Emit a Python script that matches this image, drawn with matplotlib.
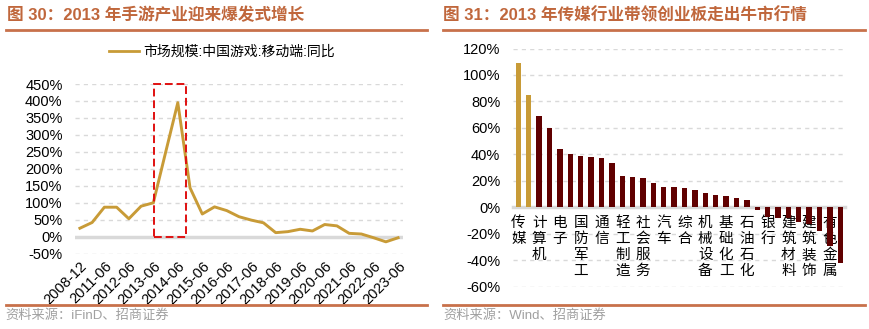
import numpy as np
import matplotlib.pyplot as plt
from matplotlib.lines import Line2D
from matplotlib.patches import Rectangle

plt.rcParams['font.family'] = ['Liberation Sans', 'Noto Sans CJK SC']

# left: mobile game market size yoy (%)
periods = ['2008-12', '2010-12', '2011-06', '2011-12', '2012-06', '2012-12', '2013-06',
           '2013-12', '2014-06', '2014-12', '2015-06', '2015-12', '2016-06', '2016-12',
           '2017-06', '2017-12', '2018-06', '2018-12', '2019-06', '2019-12', '2020-06',
           '2020-12', '2021-06', '2021-12', '2022-06', '2022-12', '2023-06']
growth = [25, 42, 87, 87, 53, 90, 100, 248, 395, 144, 67, 88, 77, 59, 49, 41,
          12, 15, 22, 17, 36, 32, 10, 8, -3, -15, -3]
line_ticks = list(range(-50, 451, 50))

# right: 2013 industry returns (%)
industries = ['传媒', '创业板指', '计算机', '环保', '电子', '医药生物', '国防军工', '家用电器',
              '通信', '电力设备', '轻工制造', '纺织服饰', '社会服务', '美容护理', '汽车', '农林牧渔',
              '综合', '商贸零售', '机械设备', '公用事业', '基础化工', '交通运输', '石油石化', '非银金融',
              '银行', '房地产', '建筑材料', '钢铁', '建筑装饰', '食品饮料', '有色金属', '煤炭']
returns = [109, 85, 69, 59.5, 44, 40.5, 38.5, 38, 37.5, 33.4, 23.3, 22.5, 22, 18.6,
           15.2, 15, 14.2, 12.7, 10.6, 9.1, 8.1, 6.8, 5.1, -2.5, -7.5, -8, -8.5, -11,
           -13, -17.7, -29, -42]
bar_ticks = list(range(-60, 121, 20))

GOLD = '#C89B37'
DARK = '#600000'
RULE = '#C8714B'
TITLE = '#C0673C'
GRID = '#D9D9D9'

fig = plt.figure(figsize=(8.7, 3.29), dpi=100)

# titles, rules, sources
fig.text(7 / 870, 1 - 15 / 329, '图 30：2013 年手游产业迎来爆发式增长', color=TITLE,
         fontsize=12, fontweight='bold', va='center', ha='left')
fig.text(443 / 870, 1 - 15 / 329, '图 31：2013 年传媒行业带领创业板走出牛市行情', color=TITLE,
         fontsize=12, fontweight='bold', va='center', ha='left')
for x0, x1 in [(6, 427), (443, 865)]:
    for yy in (29.5, 304.5):
        fig.add_artist(Line2D([x0 / 870, x1 / 870], [1 - yy / 329] * 2, color=RULE, lw=2))
fig.text(5 / 870, 1 - 316 / 329, '资料来源：iFinD、招商证券', color='#A0A0A0', fontsize=9.5,
         va='center', ha='left')
fig.text(443 / 870, 1 - 316 / 329, '资料来源：Wind、招商证券', color='#A0A0A0', fontsize=9.5,
         va='center', ha='left')

# left chart
ax1 = fig.add_axes([75 / 870, 1 - 253.7 / 329, 328 / 870, 169.7 / 329])
x = np.arange(len(growth))
for t in line_ticks:
    if t == 0:
        ax1.axhline(0, color=GRID, lw=2.5, zorder=1)
    else:
        ax1.axhline(t, color=GRID, lw=1, ls=(0, (3, 3)), zorder=1)
ax1.plot(x, growth, color=GOLD, lw=2.1, zorder=3)
ax1.add_patch(Rectangle((6.05, 0), 2.6, 450, fill=False, ec='#E01010', lw=1.4,
                        ls=(0, (4, 2)), zorder=4, clip_on=False))
ax1.set_xlim(-0.4, len(growth) - 0.6)
ax1.set_ylim(-50, 450)
ax1.set_yticks(line_ticks)
ax1.set_yticklabels([f'{t}%' for t in line_ticks])
ax1.set_xticks(x[::2])
ax1.set_xticklabels(periods[::2], rotation=45, ha='right', rotation_mode='anchor')
ax1.tick_params(length=0, labelsize=10.5, pad=9)
ax1.tick_params(axis='x', pad=4)
for s in ax1.spines.values():
    s.set_visible(False)
fig.legend([Line2D([], [], color=GOLD, lw=2)], ['市场规模:中国游戏:移动端:同比'],
           loc='center', bbox_to_anchor=(222 / 870, 1 - 52 / 329), frameon=False,
           fontsize=10, handlelength=2.2, handletextpad=0.3)

# right chart
ax2 = fig.add_axes([512.7 / 870, 1 - 286.5 / 329, 332.3 / 870, 238 / 329])
xb = np.arange(len(returns))
for t in bar_ticks:
    if t != 0:
        ax2.axhline(t, color=GRID, lw=1, ls=(0, (3, 3)), zorder=1)
colors = [GOLD if i < 2 else DARK for i in range(len(returns))]
ax2.bar(xb, returns, width=0.52, color=colors, zorder=3)
ax2.set_xlim(-0.55, len(returns) - 0.55)
ax2.set_ylim(-60, 120)
ax2.set_yticks(bar_ticks)
ax2.set_yticklabels([f'{t}%' for t in bar_ticks])
ax2.set_xticks(xb[::2])
ax2.set_xticklabels(['\n'.join(n) for n in industries[::2]], linespacing=1.08, va='top')
ax2.tick_params(length=0, labelsize=10.5, pad=9)
ax2.tick_params(axis='x', pad=6)
for k in ['top', 'right', 'left']:
    ax2.spines[k].set_visible(False)
ax2.spines['bottom'].set_position(('data', 0))
ax2.spines['bottom'].set_color(GRID)
ax2.spines['bottom'].set_linewidth(2.5)
ax2.spines['bottom'].set_zorder(2)

fig.savefig('out.png', dpi=100)
